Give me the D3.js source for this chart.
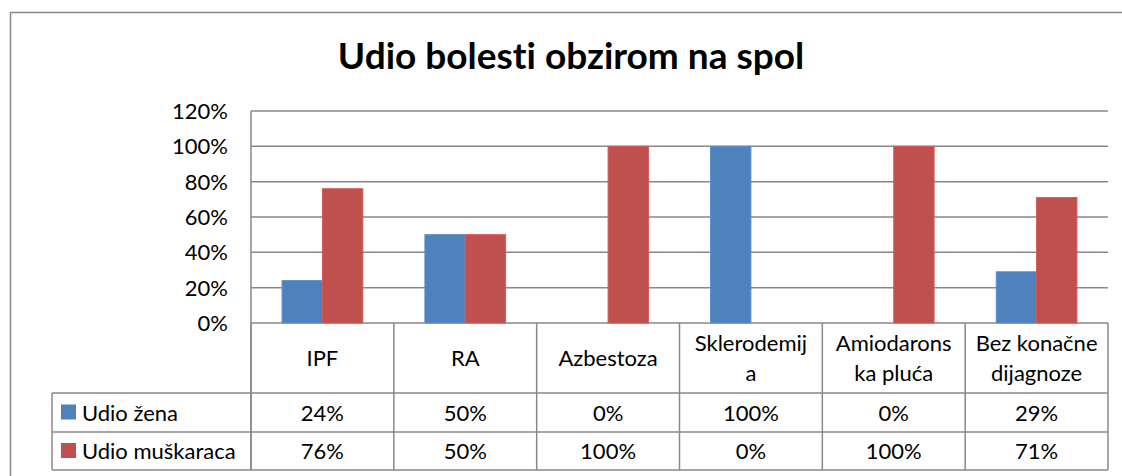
<!DOCTYPE html>
<meta charset="utf-8">
<script src="https://d3js.org/d3.v7.min.js"></script>
<style>
  body { margin: 0; background: #fff; }
  text { font-family: Lato, "Open Sans", sans-serif; fill: #000; font-variant-ligatures: none; font-feature-settings: "liga" 0; }
</style>
<body>
<script>
// Chart data
const categories = [["IPF"], ["RA"], ["Azbestoza"], ["Sklerodemij", "a"], ["Amiodarons", "ka pluća"], ["Bez konačne", "dijagnoze"]];
const seriesNames = ["Udio žena", "Udio muškaraca"];
const zene = [0.24, 0.50, 0.00, 1.00, 0.00, 0.29];
const muskarci = [0.76, 0.50, 1.00, 0.00, 1.00, 0.71];
const yTicks = [0, 0.2, 0.4, 0.6, 0.8, 1.0, 1.2];
const colors = ["#4F81BD", "#C0504D"];

const width = 1122, height = 476;
const plot = {left: 251, right: 1108, top: 111, bottom: 323};
const rowY = [393, 432, 470];
const legendLeft = 52;
const gridColor = "#888";
const fontSize = 22;

const svg = d3.select("body").append("svg")
  .attr("width", width)
  .attr("height", height);

// outer chart border
svg.append("rect")
  .attr("x", 10.5).attr("y", 12.5)
  .attr("width", 1130).attr("height", 480)
  .attr("fill", "none").attr("stroke", gridColor).attr("stroke-width", 1.5);

// title
svg.append("text")
  .attr("x", 571).attr("y", 69)
  .attr("text-anchor", "middle")
  .style("font-size", "37px").style("font-weight", "bold")
  .text("Udio bolesti obzirom na spol");

const x0 = d3.scaleBand()
  .domain(d3.range(categories.length))
  .range([plot.left, plot.right]);

const x1 = d3.scaleBand()
  .domain([0, 1])
  .range([0, x0.bandwidth()])
  .paddingOuter(0.77);

const y = d3.scaleLinear()
  .domain([0, 1.2])
  .range([plot.bottom, plot.top]);

// gridlines
svg.append("g").selectAll("line")
  .data(yTicks)
  .join("line")
  .attr("x1", plot.left).attr("x2", plot.right)
  .attr("y1", d => y(d)).attr("y2", d => y(d))
  .attr("stroke", gridColor).attr("stroke-width", 1.5);

// y labels
svg.append("g").selectAll("text")
  .data(yTicks)
  .join("text")
  .attr("x", 228)
  .attr("y", d => y(d) + 8)
  .attr("text-anchor", "end")
  .style("font-size", fontSize + "px")
  .text(d => d3.format(".0%")(d));

// bars
const groups = svg.append("g").selectAll("g")
  .data(categories.map((c, i) => [zene[i], muskarci[i]]))
  .join("g")
  .attr("transform", (d, i) => `translate(${x0(i)},0)`);

groups.selectAll("rect")
  .data(d => d)
  .join("rect")
  .attr("x", (d, j) => x1(j))
  .attr("width", x1.bandwidth())
  .attr("y", d => y(d))
  .attr("height", d => y(0) - y(d))
  .attr("fill", (d, j) => colors[j])
  .attr("stroke", (d, j) => d > 0 ? d3.color(colors[j]).brighter(0.3) : "none")
  .attr("stroke-width", 1);

// axis left line
svg.append("line")
  .attr("x1", plot.left).attr("x2", plot.left)
  .attr("y1", plot.top).attr("y2", rowY[2])
  .attr("stroke", gridColor).attr("stroke-width", 1.5);

// data table lines
const tbl = svg.append("g").attr("stroke", gridColor).attr("stroke-width", 1.5);
rowY.forEach(ry => {
  tbl.append("line").attr("x1", legendLeft).attr("x2", plot.right).attr("y1", ry).attr("y2", ry);
});
tbl.append("line").attr("x1", legendLeft).attr("x2", legendLeft).attr("y1", rowY[0]).attr("y2", rowY[2]);
tbl.selectAll("line.v")
  .data(d3.range(categories.length + 1))
  .join("line")
  .attr("class", "v")
  .attr("x1", i => plot.left + i * x0.step()).attr("x2", i => plot.left + i * x0.step())
  .attr("y1", plot.bottom).attr("y2", rowY[2]);

// category header cells
const header = svg.append("g").selectAll("text")
  .data(categories)
  .join("text")
  .attr("text-anchor", "middle")
  .style("font-size", fontSize + "px");
header.each(function(lines, i) {
  const cx = x0(i) + x0.bandwidth() / 2;
  const mid = (plot.bottom + rowY[0]) / 2;
  const start = mid + 8 - (lines.length - 1) * 15;
  d3.select(this).selectAll("tspan")
    .data(lines)
    .join("tspan")
    .attr("x", cx)
    .attr("y", (l, k) => start + k * 30)
    .text(l => l);
});

// series rows
[zene, muskarci].forEach((vals, r) => {
  const cy = (rowY[r] + rowY[r + 1]) / 2;
  svg.append("rect")
    .attr("x", 61).attr("y", cy - 8)
    .attr("width", 15).attr("height", 15)
    .attr("fill", colors[r]);
  svg.append("text")
    .attr("x", 82).attr("y", cy + 8)
    .style("font-size", fontSize + "px")
    .text(seriesNames[r]);
  svg.append("g").selectAll("text")
    .data(vals)
    .join("text")
    .attr("x", (d, i) => x0(i) + x0.bandwidth() / 2)
    .attr("y", cy + 8)
    .attr("text-anchor", "middle")
    .style("font-size", fontSize + "px")
    .text(d => d3.format(".0%")(d));
});
</script>
</body>
